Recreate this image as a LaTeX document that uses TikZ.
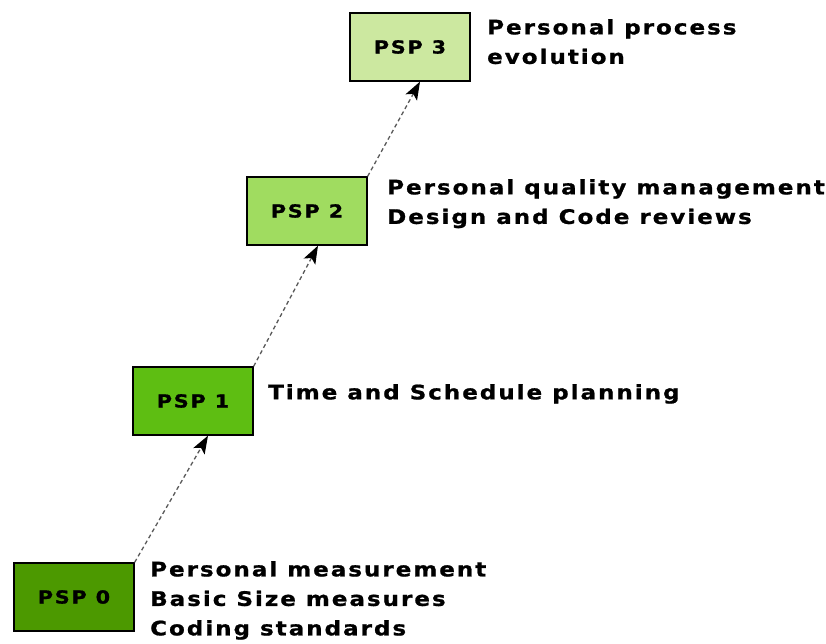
\documentclass[tikz,border=0pt]{standalone}
\usepackage{fontspec}
\setmainfont{DejaVu Sans}[LetterSpace=10, FakeStretch=1.15, FakeBold=1]
\usetikzlibrary{arrows, arrows.meta, positioning}
\definecolor{pspzero}{RGB}{76, 153, 0}
\definecolor{pspone}{RGB}{94, 190, 18}
\definecolor{psptwo}{RGB}{160, 220, 96}
\definecolor{pspthree}{RGB}{204, 232, 160}

\begin{document}
\begin{tikzpicture}[x=1pt, y=-1pt, >={Stealth[length=18pt, width=13pt, inset=4pt, black]},
    level/.style={draw, rectangle, line width=1.3pt, minimum width=120pt, minimum height=68pt, font=\fontsize{18}{18}\selectfont\bfseries},
    note/.style={anchor=north west, align=left, inner sep=0pt, font=\fontsize{20}{29.5}\selectfont\bfseries},
    climb/.style={->, dash pattern=on 4pt off 3pt, line width=1.3pt, draw=gray!70!black}]
                    \useasboundingbox (0,0) rectangle (826,644);
                    \node[level, fill=pspzero] (psp0) at (74,597) {PSP 0};
                    \node[level, fill=pspone] (psp1) at (193,401) {PSP 1};
                    \node[level, fill=psptwo] (psp2) at (307,211) {PSP 2};
                    \node[level, fill=pspthree] (psp3) at (410,47) {PSP 3};
                    \node[note] (n0) at (150,561) {Personal measurement\\Basic Size measures\\Coding standards};
                    \node[note] (n1) at (268,384) {Time and Schedule planning};
                    \node[note] (n2) at (387,179) {Personal quality management\\Design and Code reviews};
                    \node[note] (n3) at (487,19) {Personal process\\evolution};
                    \draw[climb] (psp0.north east) -- ([xshift=15pt]psp1.south);
                    \draw[climb] (psp1.north east) -- ([xshift=11pt]psp2.south);
                    \draw[climb] (psp2.north east) -- ([xshift=10pt]psp3.south);
                \end{tikzpicture}
\end{document}
